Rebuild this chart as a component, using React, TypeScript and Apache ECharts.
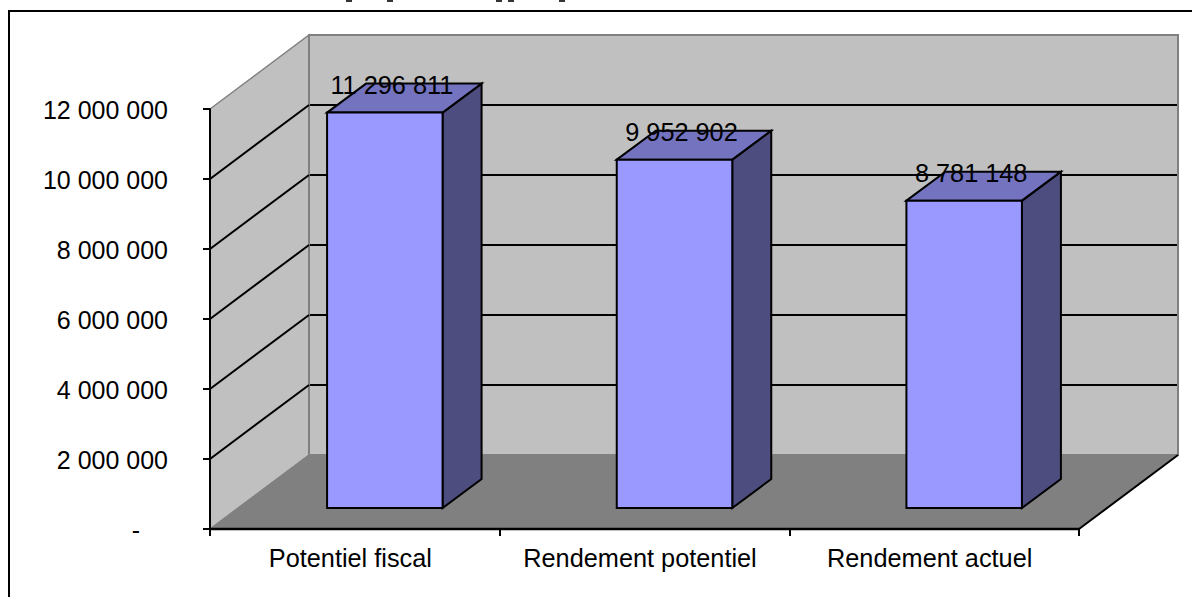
import React, { useEffect, useRef } from "react";
import * as echarts from "echarts";

const categories = ["Potentiel fiscal", "Rendement potentiel", "Rendement actuel"];
const amounts = [11296811, 9952902, 8781148];
const gridValues = [0, 2000000, 4000000, 6000000, 8000000, 10000000, 12000000];
const headingFeet = [346, 387, 496, 508, 559];

// Oblique projection of the plot box: how far the back wall sits from the front plane.
const DEPTH_X = 99;
const DEPTH_Y = -74;
// Bars stand partway into the floor.
const BAR_DEPTH_X = 39;
const BAR_DEPTH_Y = -29;
const BAR_SHIFT_X = 30;
const BAR_SHIFT_Y = -21;
const BAR_WIDTH = 115.5;
const LABEL_SHIFT_X = 7;

const FONT = "'Liberation Sans', Arial, sans-serif";
const FONT_SIZE = 25;
const LABEL_FONT_SIZE = 25.3;
const WALL = "#c0c0c0";
const WALL_EDGE = "#808080";
const FLOOR = "#808080";
const INK = "#000000";

const formatAmount = (v: number) =>
  String(Math.round(v)).replace(/\B(?=(\d{3})+(?!\d))/g, " ");

// The accounting format shows zero as a dash, set in from the right of the column.
const formatTick = (v: number) => (v === 0 ? "{dash|-}" : formatAmount(v));

const poly = (points: number[][], fill: string, stroke: string, lineWidth = 2) => ({
  type: "polygon",
  shape: { points },
  style: { fill, stroke, lineWidth, lineJoin: "miter" },
});

const seg = (a: number[], b: number[], stroke: string, lineWidth = 2) => ({
  type: "line",
  shape: { x1: a[0], y1: a[1], x2: b[0], y2: b[1] },
  style: { stroke, lineWidth },
});

// Walls, floor and gridlines of the box, placed through the axis scales.
const renderBox = (_params: any, api: any) => {
  const lo = api.coord([0, 0]);
  const hi = api.coord([2, 12000000]);
  const halfBand = (hi[0] - lo[0]) / 4;
  const xL = lo[0] - halfBand;
  const xR = hi[0] + halfBand;
  const yB = lo[1];
  const yT = hi[1];
  const dx = DEPTH_X;
  const dy = DEPTH_Y;
  const children: any[] = [
    poly([[xL, yT], [xL + dx, yT + dy], [xL + dx, yB + dy], [xL, yB]], WALL, WALL_EDGE, 1.5),
    poly([[xL + dx, yT + dy], [xR + dx, yT + dy], [xR + dx, yB + dy], [xL + dx, yB + dy]], WALL, WALL_EDGE, 2),
    poly([[xL, yB], [xL + dx, yB + dy], [xR + dx, yB + dy], [xR, yB]], FLOOR, WALL_EDGE, 1),
  ];
  gridValues.slice(1, -1).forEach((v) => {
    const y = api.coord([0, v])[1];
    children.push(seg([xL, y], [xL + dx, y + dy], INK));
    children.push(seg([xL + dx + 1, y + dy], [xR + dx - 1, y + dy], INK));
  });
  children.push(seg([xR, yB], [xR + dx, yB + dy], INK));
  children.push(seg([xL, yB], [xR, yB], INK, 2.5));
  return { type: "group", children };
};

// One bar as a front face, a lid and a shaded side.
const renderBar = (_params: any, api: any) => {
  const c = api.coord([api.value(0), api.value(1)]);
  const base = api.coord([api.value(0), 0]);
  const x0 = c[0] + BAR_SHIFT_X - BAR_WIDTH / 2;
  const x1 = x0 + BAR_WIDTH;
  const yTop = c[1] + BAR_SHIFT_Y;
  const yBot = base[1] + BAR_SHIFT_Y;
  const dx = BAR_DEPTH_X;
  const dy = BAR_DEPTH_Y;
  return {
    type: "group",
    children: [
      poly([[x1, yTop], [x1 + dx, yTop + dy], [x1 + dx, yBot + dy], [x1, yBot]], "#4d4d7f", INK),
      poly([[x0, yTop], [x0 + dx, yTop + dy], [x1 + dx, yTop + dy], [x1, yTop]], "#7373bf", INK),
      poly([[x0, yTop], [x1, yTop], [x1, yBot], [x0, yBot]], "#9999ff", INK),
      {
        type: "text",
        style: {
          x: (x0 + x1) / 2 + LABEL_SHIFT_X,
          y: yTop + dy + 1,
          text: formatAmount(api.value(1)),
          align: "center",
          verticalAlign: "middle",
          font: `${LABEL_FONT_SIZE}px ${FONT}`,
          fill: INK,
        },
      },
    ],
  };
};

export default function App() {
  const ref = useRef<HTMLDivElement>(null);

  useEffect(() => {
    document.body.style.margin = "0";
    const chart = echarts.init(ref.current!, undefined, { renderer: "svg" });
    chart.setOption({
      animation: false,
      backgroundColor: "#ffffff",
      grid: { left: 210, top: 109, width: 869, height: 420, containLabel: false },
      xAxis: {
        type: "category",
        data: categories,
        boundaryGap: true,
        axisLine: { show: false },
        axisTick: { show: true, interval: 0, alignWithLabel: false, length: 7, lineStyle: { color: INK, width: 2 } },
        axisLabel: {
          show: true,
          interval: 0,
          hideOverlap: false,
          color: INK,
          fontFamily: FONT,
          fontSize: LABEL_FONT_SIZE,
          margin: 16,
          padding: [0, 9, 0, 0],
        },
        splitLine: { show: false },
        z: 5,
      },
      yAxis: {
        type: "value",
        min: 0,
        max: 12000000,
        interval: 2000000,
        axisLine: { show: true, lineStyle: { color: INK, width: 2 } },
        axisTick: { show: true, length: 7, lineStyle: { color: INK, width: 2 } },
        axisLabel: {
          color: INK,
          fontFamily: FONT,
          fontSize: FONT_SIZE,
          margin: 42,
          padding: [2, 0, 0, 0],
          formatter: formatTick,
          rich: {
            dash: { color: INK, fontFamily: FONT, fontSize: FONT_SIZE, padding: [0, 28, 0, 0] },
          },
        },
        splitLine: { show: false },
        z: 5,
      },
      series: [
        {
          type: "custom",
          renderItem: renderBox,
          data: [[0, 0]],
          silent: true,
          clip: false,
          z: 1,
        },
        {
          type: "custom",
          renderItem: renderBar,
          data: categories.map((_, i) => [i, amounts[i]]),
          encode: { x: 0, y: 1 },
          clip: false,
          z: 2,
        },
      ],
      graphic: [
        { type: "line", shape: { x1: 9, y1: 11, x2: 1192, y2: 11 }, style: { stroke: INK, lineWidth: 2 } },
        { type: "line", shape: { x1: 9, y1: 10, x2: 9, y2: 597 }, style: { stroke: INK, lineWidth: 2 } },
        ...headingFeet.map((x) => ({
          type: "rect",
          shape: { x, y: 0, width: 6, height: 2 },
          style: { fill: "#333333" },
        })),
      ],
    });
    return () => chart.dispose();
  }, []);

  return <div ref={ref} style={{ width: 1192, height: 597 }} />;
}
